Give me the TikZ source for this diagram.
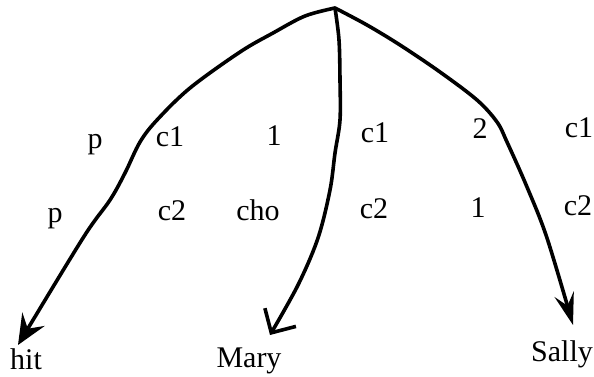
\documentclass[tikz,border=0pt]{standalone}
\usepackage{fontspec}
\setmainfont{Liberation Serif}
\usetikzlibrary{arrows.meta}
\begin{document}
\begin{tikzpicture}[x=1pt,y=-1pt,
  lbl/.style={anchor=base,inner sep=0pt,font=\fontsize{30}{31}\selectfont},
  edge/.style={line width=3.6pt,line cap=round,line join=round}]
\useasboundingbox (0,0) rectangle (594,376);
% root and arrow tips
\coordinate (root) at (335,8);
\coordinate (tipHit) at (18,345);
\coordinate (tipMary) at (270,335);
\coordinate (tipSally) at (573,325);
% leaves
\node[lbl] (hit) at (26,369) {hit};
\node[lbl] (mary) at (249,367) {Mary};
\node[lbl] (sally) at (562,361) {Sally};
% row 1 labels
\node[lbl] (p1) at (95,148) {p};
\node[lbl] (c1a) at (170,146) {c1};
\node[lbl] (one1) at (274,145) {1};
\node[lbl] (c1b) at (375,142) {c1};
\node[lbl] (two1) at (480,138) {2};
\node[lbl] (c1c) at (579,137) {c1};
% row 2 labels
\node[lbl] (p2) at (55,222) {p};
\node[lbl] (c2a) at (172,220) {c2};
\node[lbl] (cho) at (258,220) {cho};
\node[lbl] (c2b) at (374,218) {c2};
\node[lbl] (one2) at (478,217) {1};
\node[lbl] (c2c) at (578,215) {c2};
% edges
\draw[edge,-{Stealth[length=30pt,width=26pt,inset=11pt]}] plot[smooth,tension=0.55] coordinates
  {(root) (305,16) (273,33) (240,52) (190,88) (157,120) (140,142) (125,173) (110,200) (83,238) (tipHit)};
\draw[edge,-{Straight Barb[length=18pt,width=36pt]}] plot[smooth,tension=0.55] coordinates
  {(root) (339,40) (340,80) (340,120) (335,153) (330,190) (318,238) (298,285) (tipMary)};
\draw[edge,-{Stealth[length=32pt,width=20pt,inset=12pt]}] plot[smooth,tension=0.55] coordinates
  {(root) (367,25) (400,45) (440,72) (477,100) (497,122) (507,142) (527,187) (547,238) (tipSally)};
\end{tikzpicture}
\end{document}
